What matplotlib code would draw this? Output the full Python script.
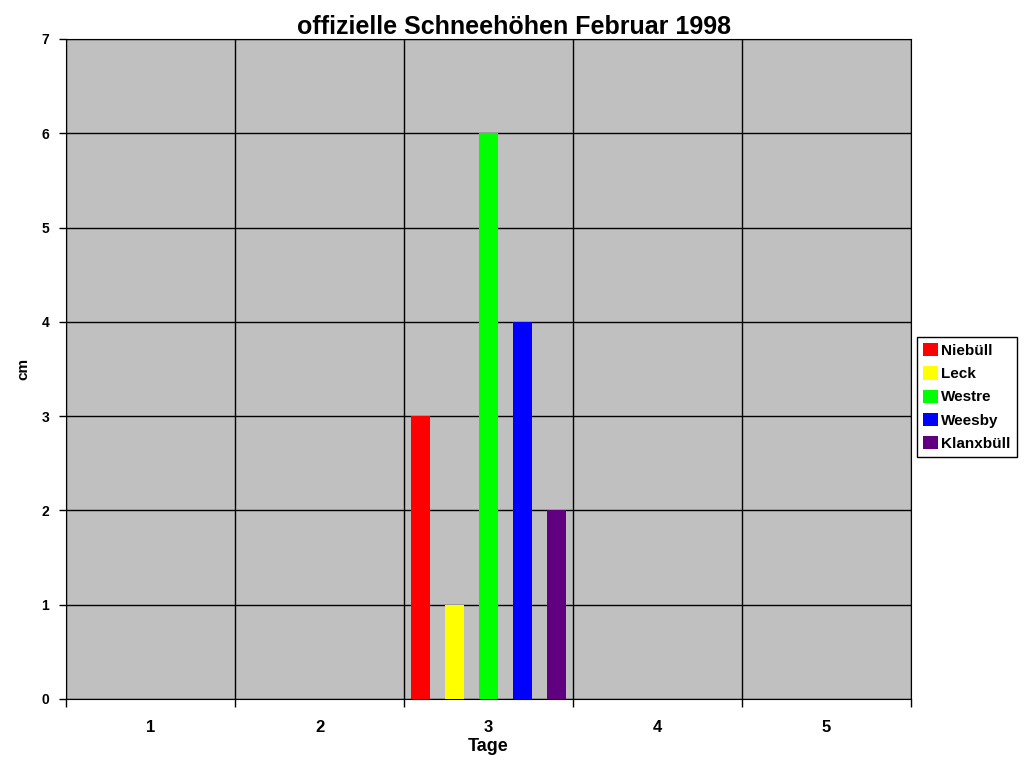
import numpy as np
import matplotlib.pyplot as plt

plt.rcParams['font.family'] = ['Liberation Sans', 'DejaVu Sans']

# data
tage = [1, 2, 3, 4, 5]
orte = ['Niebüll', 'Leck', 'Westre', 'Weesby', 'Klanxbüll']
niebuell = [0, 0, 3, 0, 0]
leck = [0, 0, 1, 0, 0]
westre = [0, 0, 6, 0, 0]
weesby = [0, 0, 4, 0, 0]
klanxbuell = [0, 0, 2, 0, 0]
farben = ['#ff0000', '#ffff00', '#00ff00', '#0000ff', '#600080']

werte = [niebuell, leck, westre, weesby, klanxbuell]

fig = plt.figure(figsize=(10.24, 7.68), dpi=100)
ax = fig.add_axes([66/1024, 1-699/768, (911-66)/1024, (699-39)/768])
ax.set_facecolor('#c0c0c0')

x = np.array(tage, dtype=float)
w = 0.112
for i, (name, vals, col) in enumerate(zip(orte, werte, farben)):
    ax.bar(x + (i - 2) * 0.2, vals, width=w, color=col, label=name, zorder=3)

ax.set_xlim(0.5, 5.5)
ax.set_ylim(0, 7)
ax.set_yticks(range(8))
ax.set_xticks(tage)
ax.set_xticks(np.arange(0.5, 6.0, 1.0), minor=True)
ax.tick_params(axis='x', which='major', length=0, pad=15, labelsize=12)
ax.tick_params(axis='x', which='minor', length=6, width=1, direction='out')
ax.tick_params(axis='y', length=5, width=1, direction='out', labelsize=10, pad=7)
for lab in ax.get_xticklabels() + ax.get_yticklabels():
    lab.set_fontweight('bold')

ax.grid(axis='y', color='black', linewidth=1, zorder=1)
ax.grid(axis='x', which='minor', color='black', linewidth=1, zorder=1)
ax.set_axisbelow(True)
for s in ax.spines.values():
    s.set_color('black')

fig.suptitle('offizielle Schneehöhen Februar 1998', x=514/1024, y=1-27/768,
             va='center', fontsize=18, fontweight='bold')
ax.set_xlabel('Tage', fontsize=13, fontweight='bold', labelpad=2)
ax.set_ylabel('cm', fontsize=11, fontweight='bold', labelpad=8)

leg = fig.legend(loc='upper left', bbox_to_anchor=(917/1024, 1-337/768),
                 fancybox=False, framealpha=1, edgecolor='black',
                 prop={'weight': 'bold', 'size': 11}, handlelength=0.95,
                 handleheight=0.95, handletextpad=0.25, borderpad=0.4,
                 labelspacing=0.55, borderaxespad=0)
leg.get_frame().set_linewidth(1)

fig.savefig('out.png', dpi=100)
